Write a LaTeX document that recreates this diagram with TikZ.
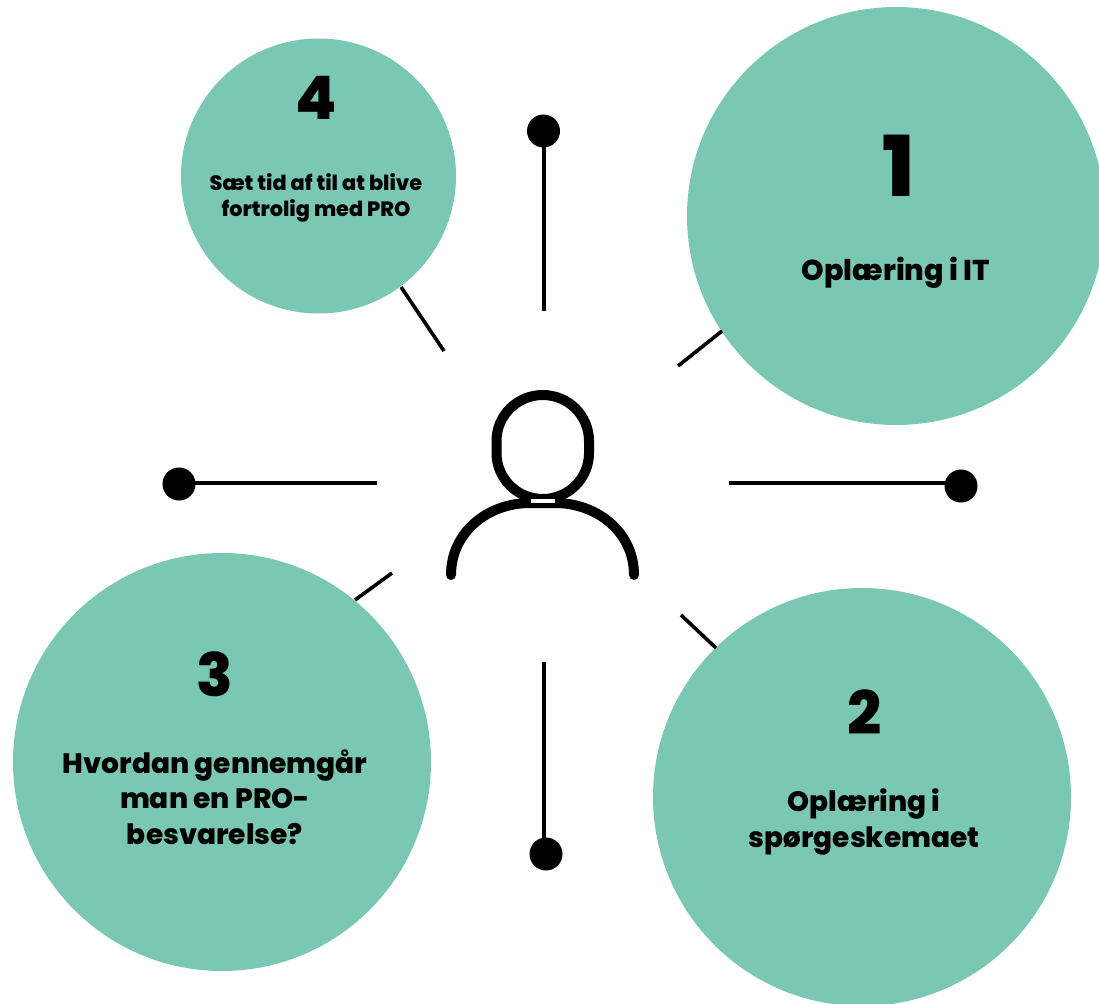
\documentclass[tikz,border=0pt]{standalone}
\usepackage{fontspec}
\setmainfont{Poppins}[BoldFont={Poppins ExtraBold}]
\begin{document}
\begin{tikzpicture}[x=1pt,y=-1pt,
  bub/.style={circle,fill=bubcol,draw=none,inner sep=0pt},
  ln/.style={line width=3.6pt,black},
  dotn/.style={circle,fill=black,inner sep=0pt,minimum size=33pt},
  num/.style={font=\fontsize{60}{60}\selectfont\bfseries,inner sep=0pt},
  lab/.style={font=\fontsize{28}{35.5}\selectfont\bfseries,align=center,inner sep=0pt},
  icon/.style={line width=10pt,black}]
\definecolor{bubcol}{HTML}{7AC8B3}
\useasboundingbox (0,0) rectangle (1099,1003);
\clip (0,0) rectangle (1099,1003);
\node[bub,minimum size=418pt] (c1) at (896,216) {};
\node[bub,minimum size=418pt] (c2) at (862,797) {};
\node[bub,minimum size=418pt] (c3) at (222,762) {};
\node[bub,minimum size=275pt] (c4) at (318.5,176) {};
\node[num,font=\fontsize{84}{84}\selectfont\bfseries] (n1) at (899,166) {1};
\node[lab,font=\fontsize{28.7}{35.5}\selectfont\bfseries] (t1) at (896,273) {Oplæring i IT};
\node[num] (n2) at (865,712) {2};
\node[lab] (t2) at (864,822) {Oplæring i\\spørgeskemaet};
\node[num] (n3) at (215,674) {3};
\node[lab] (t3) at (215,797) {Hvordan gennemgår\\man en PRO-\\besvarelse?};
\node[num] (n4) at (316,98) {4};
\node[lab,font=\fontsize{20.8}{26}\selectfont\bfseries] (t4) at (316,198) {Sæt tid af til at blive\\fortrolig med PRO};
\node[dotn] (d1) at (543.5,131) {};
\node[dotn] (d2) at (961,486) {};
\node[dotn] (d3) at (546,854) {};
\node[dotn] (d4) at (179,484) {};
\coordinate (e1) at (544,311);
\coordinate (e2) at (729,483);
\coordinate (e3) at (544,662);
\coordinate (e4) at (377,483);
\coordinate (a1) at (678,366);
\coordinate (a2) at (681,615);
\coordinate (a3) at (392,573);
\coordinate (a4) at (444,351);
\coordinate (b1) at (722,331);
\coordinate (b2) at (716,648);
\coordinate (b3) at (355,600);
\coordinate (b4) at (401,287);
\draw[ln] (e1|-d1) -- (e1);
\draw[ln] (e2) -- (d2|-e2);
\draw[ln] (e3) -- (e3|-d3);
\draw[ln] (e4-|d4) -- (e4);
\draw[ln] (a1) -- (b1);
\draw[ln] (a2) -- (b2);
\draw[ln] (a3) -- (b3);
\draw[ln] (a4) -- (b4);
\draw[icon] (496.5,441) .. controls (496.5,415.5) and (517.2,395) .. (542.75,395) .. controls (568.3,395) and (589,415.5) .. (589,441) -- (589,453) .. controls (589,478.5) and (568.3,499) .. (542.75,499) .. controls (517.2,499) and (496.5,478.5) .. (496.5,453) -- cycle;
\draw[icon,line cap=round] (451,575) .. controls (451,532) and (488,503) .. (530,503) -- (555,503) .. controls (597,503) and (634,532) .. (634,575);
\fill[white] (531,499) rectangle (555,503);
\end{tikzpicture}
\end{document}
